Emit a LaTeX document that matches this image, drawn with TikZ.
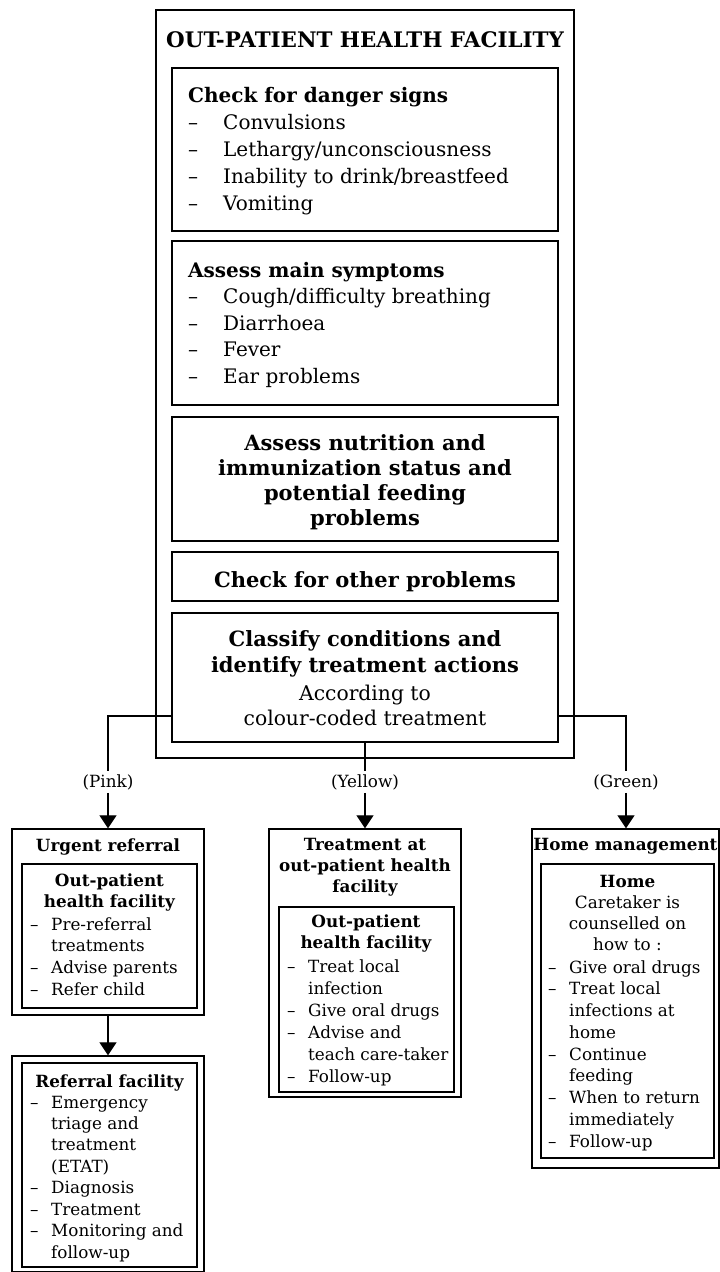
\documentclass[tikz,border=0pt]{standalone}
\usepackage{fontspec}
\setmainfont{DejaVu Serif}
\usetikzlibrary{arrows.meta,positioning,fit,calc}

\newcommand{\dsh}{\makebox[35pt][l]{--}}
\newcommand{\dshs}{\makebox[21pt][l]{--}}
\newcommand{\ind}{\hspace*{21pt}}

\tikzset{
    frame/.style={draw, line width=1.3pt, inner sep=0pt, fit={#1}},
    % big box text (placed at the baseline of the last line)
    bigHead/.style={font=\fontsize{21}{26}\selectfont\bfseries, align=center, anchor=base, inner sep=0pt},
    bigText/.style={font=\fontsize{20.3}{25}\selectfont, align=center, anchor=base, inner sep=0pt},
    bigList/.style={font=\fontsize{20}{27}\selectfont, align=left, anchor=base west, inner sep=0pt},
    % small box text
    smallHead/.style={font=\fontsize{16.8}{21}\selectfont\bfseries, align=center, anchor=base, inner sep=0pt},
    smallText/.style={font=\fontsize{16.8}{21}\selectfont, align=center, anchor=base, inner sep=0pt},
    smallList/.style={font=\fontsize{16.8}{21.6}\selectfont, align=left, anchor=base west, inner sep=0pt},
    % connectors
    tag/.style={font=\fontsize{16.8}{18}\selectfont, inner sep=3pt},
    link/.style={line width=1.2pt},
    linkArrow/.style={link, -{Triangle[width=17pt,length=13pt]}}
}

\begin{document}
\begin{tikzpicture}[x=1pt, y=-1pt]
\useasboundingbox (0,0) rectangle (720,1272);

% out-patient facility
\node[frame={(156,10) (574,758)}] (opd) {};
\node[bigHead, font=\fontsize{21.4}{26}\selectfont\bfseries] (opdTtl) at (365,47) {OUT-PATIENT HEALTH FACILITY};

\node[frame={(172,68) (558,231)}] (dgr) {};
\node[bigList] (dgrTxt) at (188,210) {\textbf{Check for danger signs}\\ \dsh Convulsions\\ \dsh Lethargy/unconsciousness\\ \dsh Inability to drink/breastfeed\\ \dsh Vomiting};

\node[frame={(172,241) (558,405)}] (sym) {};
\node[bigList, font=\fontsize{20}{26.5}\selectfont] (symTxt) at (188,383) {\textbf{Assess main symptoms}\\ \dsh Cough/difficulty breathing\\ \dsh Diarrhoea\\ \dsh Fever\\ \dsh Ear problems};

\node[frame={(172,417) (558,541)}] (nut) {};
\node[bigHead, font=\fontsize{21}{25}\selectfont\bfseries] (nutTxt) at (365,525) {Assess nutrition and\\ immunization status and\\ potential feeding\\ problems};

\node[frame={(172,552) (558,601)}] (oth) {};
\node[bigHead] (othTxt) at (365,587) {Check for other problems};

\node[frame={(172,613) (558,742)}] (cls) {};
\node[bigHead] (clsTxt) at (365,672) {Classify conditions and\\ identify treatment actions};
\node[bigText] (clsSub) at (365,725) {According to\\ colour-coded treatment};

% colour codes
\node[tag] (pnk) at (108,782) {(Pink)};
\node[tag] (yel) at (365,782) {(Yellow)};
\node[tag] (grn) at (626,782) {(Green)};

% urgent referral
\node[frame={(12,829) (204,1015)}] (urg) {};
\node[smallHead] (urgTtl) at (108,851) {Urgent referral};
\node[frame={(22,864) (197,1008)}] (urgIn) {};
\node[smallHead] (urgHd) at (109.5,907) {Out-patient\\ health facility};
\node[smallList, font=\fontsize{16.8}{21.67}\selectfont] (urgTxt) at (30,995) {\dshs Pre-referral\\ \ind treatments\\ \dshs Advise parents\\ \dshs Refer child};

% referral facility
\node[frame={(12,1056) (204,1271.3)}] (ref) {};
\node[frame={(22,1063) (197,1267)}] (refIn) {};
\node[smallHead] (refHd) at (109.5,1087) {Referral facility};
\node[smallList, font=\fontsize{16.8}{21.43}\selectfont] (refTxt) at (30,1258) {\dshs Emergency\\ \ind triage and\\ \ind treatment\\ \ind (ETAT)\\ \dshs Diagnosis\\ \dshs Treatment\\ \dshs Monitoring and\\ \ind follow-up};

% treatment at out-patient facility
\node[frame={(269,829) (461,1097)}] (trt) {};
\node[smallHead] (trtTtl) at (365,892) {Treatment at\\ out-patient health\\ facility};
\node[frame={(279,907) (454,1092)}] (trtIn) {};
\node[smallHead] (trtHd) at (366,948) {Out-patient\\ health facility};
\node[smallList, font=\fontsize{16.8}{22}\selectfont] (trtTxt) at (287,1082) {\dshs Treat local\\ \ind infection\\ \dshs Give oral drugs\\ \dshs Advise and\\ \ind teach care-taker\\ \dshs Follow-up};

% home management
\node[frame={(532,829) (719,1168)}] (hm) {};
\node[smallHead] (hmTtl) at (625.5,850) {Home management};
\node[frame={(541,864) (714,1158)}] (hmIn) {};
\node[smallHead] (hmHd) at (627.5,887) {Home};
\node[smallText] (hmSub) at (627.5,950) {Caretaker is\\ counselled on\\ how to :};
\node[smallList, font=\fontsize{16.8}{21.75}\selectfont] (hmTxt) at (548,1147) {\dshs Give oral drugs\\ \dshs Treat local\\ \ind infections at\\ \ind home\\ \dshs Continue\\ \ind feeding\\ \dshs When to return\\ \ind immediately\\ \dshs Follow-up};

% connectors
\coordinate (pk) at (108,716);
\coordinate (gk) at (626,716);
\draw[link] (cls.west |- pk) -| (pnk.north);
\draw[link] (cls.south -| yel) -- (yel.north);
\draw[link] (cls.east |- gk) -| (grn.north);
\draw[linkArrow] (pnk.south) -- (urg.north);
\draw[linkArrow] (yel.south) -- (trt.north);
\draw[linkArrow] (grn.south) -- (grn.south |- hm.north);
\draw[linkArrow] (urg.south) -- (ref.north);
\end{tikzpicture}
\end{document}
